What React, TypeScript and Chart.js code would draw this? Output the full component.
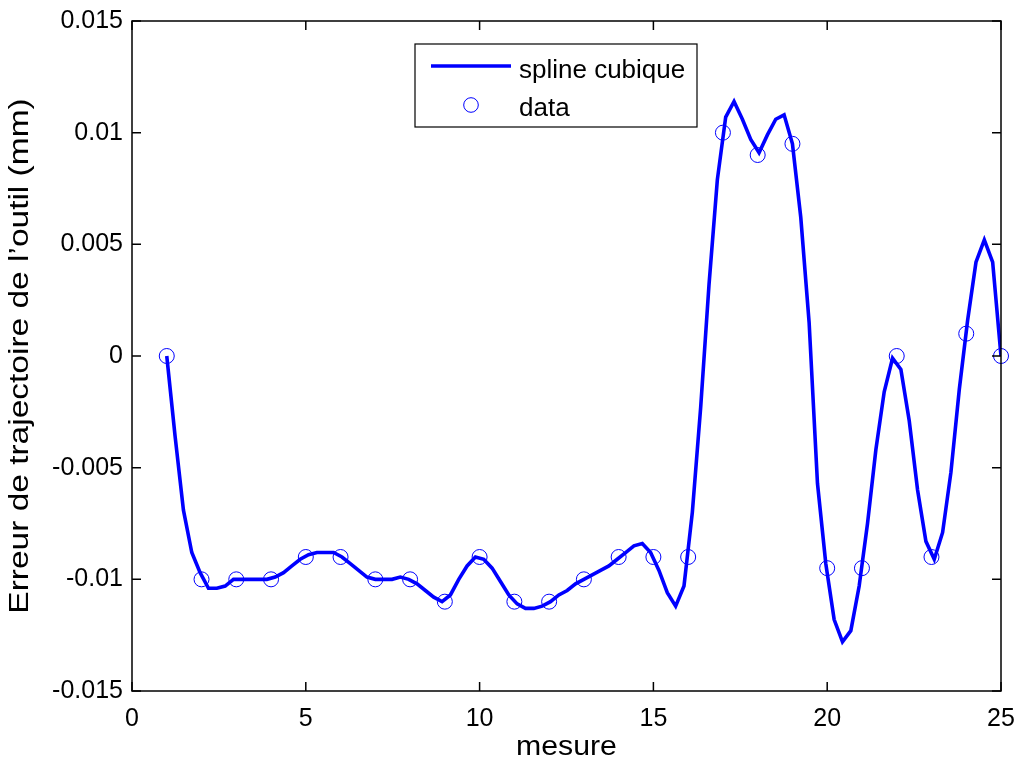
import React, { useEffect, useRef } from "react";
import { Chart, registerables } from "chart.js";

Chart.register(...registerables);

// ---- data ----
const dataX = [1, 2, 3, 4, 5, 6, 7, 8, 9, 10, 11, 12, 13, 14, 15, 16, 17, 18, 19, 20, 21, 22, 23, 24, 25];
const dataY = [
  0, -0.01, -0.01, -0.01, -0.009, -0.009, -0.01, -0.01, -0.011, -0.009,
  -0.011, -0.011, -0.01, -0.009, -0.009, -0.009, 0.01, 0.009, 0.0095, -0.0095,
  -0.0095, 0, -0.009, 0.001, 0,
];

const splineX = [
  1.0, 1.24, 1.48, 1.72, 1.96, 2.2, 2.44, 2.68, 2.92, 3.16,
  3.4, 3.64, 3.88, 4.12, 4.36, 4.6, 4.84, 5.08, 5.32, 5.56,
  5.8, 6.04, 6.28, 6.52, 6.76, 7.0, 7.24, 7.48, 7.72, 7.96,
  8.2, 8.44, 8.68, 8.92, 9.16, 9.4, 9.64, 9.88, 10.12, 10.36,
  10.6, 10.84, 11.08, 11.32, 11.56, 11.8, 12.04, 12.28, 12.52, 12.76,
  13.0, 13.24, 13.48, 13.72, 13.96, 14.2, 14.44, 14.68, 14.92, 15.16,
  15.4, 15.64, 15.88, 16.12, 16.36, 16.6, 16.84, 17.08, 17.32, 17.56,
  17.8, 18.04, 18.28, 18.52, 18.76, 19.0, 19.24, 19.48, 19.72, 19.96,
  20.2, 20.44, 20.68, 20.92, 21.16, 21.4, 21.64, 21.88, 22.12, 22.36,
  22.6, 22.84, 23.08, 23.32, 23.56, 23.8, 24.04, 24.28, 24.52, 24.76,
  25.0,
];
const splineY = [
  0, -0.0036, -0.0069, -0.0088, -0.0097, -0.0104, -0.0104, -0.0103, -0.01, -0.01,
  -0.01, -0.01, -0.01, -0.0099, -0.0097, -0.0094, -0.0091, -0.0089, -0.0088, -0.0088,
  -0.0088, -0.009, -0.0093, -0.0096, -0.0099, -0.01, -0.01, -0.01, -0.0099, -0.01,
  -0.0102, -0.0105, -0.0108, -0.011, -0.0107, -0.01, -0.0094, -0.009, -0.0091, -0.0095,
  -0.0101, -0.0107, -0.0111, -0.0113, -0.0113, -0.0112, -0.011, -0.0107, -0.0105, -0.0102,
  -0.01, -0.0098, -0.0096, -0.0094, -0.0091, -0.0088, -0.0085, -0.0084, -0.0088, -0.0096,
  -0.0106, -0.0112, -0.0103, -0.007, -0.0023, 0.0032, 0.0079, 0.0107, 0.0114, 0.0106,
  0.0097, 0.0091, 0.0099, 0.0106, 0.0108, 0.0095, 0.0062, 0.0015, -0.0057, -0.0093,
  -0.0118, -0.0128, -0.0123, -0.0103, -0.0075, -0.0042, -0.0016, -0.0001, -0.0006, -0.0029,
  -0.006, -0.0083, -0.0091, -0.0079, -0.0052, -0.0015, 0.0016, 0.0042, 0.0052, 0.0042,
  0,
];

const xTickValues = [0, 5, 10, 15, 20, 25];
const xTickLabels = ["0", "5", "10", "15", "20", "25"];
const yTickValues = [0.015, 0.01, 0.005, 0, -0.005, -0.01, -0.015];
const yTickLabels = ["0.015", "0.01", "0.005", "0", "-0.005", "-0.01", "-0.015"];

const seriesNames = ["spline cubique", "data"];
const xTitle = "mesure";
const yTitle = "Erreur de trajectoire de l\u2019outil (mm)";

// ---- styles ----
const BLUE = "#0000ff";
const FONT = '"Liberation Sans", Arial, Helvetica, sans-serif';
const FONT_SIZE = 25;
const TITLE_SIZE = 27;
const X_TITLE_STRETCH = 1.12;
const Y_TITLE_STRETCH = 1.24;

const axesBoxPlugin = {
  id: "axesBox",
  afterDraw(chart: any) {
    const { ctx, chartArea, scales } = chart;
    const { left, right, top, bottom } = chartArea;
    ctx.save();
    ctx.strokeStyle = "#000";
    ctx.lineWidth = 1.5;
    const tl = 9;
    ctx.beginPath();
    for (const v of xTickValues) {
      const px = scales.x.getPixelForValue(v);
      ctx.moveTo(px, bottom);
      ctx.lineTo(px, bottom - tl);
      ctx.moveTo(px, top);
      ctx.lineTo(px, top + tl);
    }
    for (const v of yTickValues) {
      const py = scales.y.getPixelForValue(v);
      ctx.moveTo(left, py);
      ctx.lineTo(left + tl, py);
      ctx.moveTo(right, py);
      ctx.lineTo(right - tl, py);
    }
    ctx.stroke();
    ctx.strokeRect(left, top, right - left, bottom - top);

    // axis titles
    ctx.fillStyle = "#000";
    ctx.font = `${TITLE_SIZE}px ${FONT}`;
    ctx.textAlign = "center";
    ctx.textBaseline = "middle";
    ctx.save();
    ctx.translate((left + right) / 2, 748);
    ctx.scale(X_TITLE_STRETCH, 1);
    ctx.fillText(xTitle, 0, 0);
    ctx.restore();
    ctx.save();
    ctx.translate(21, (top + bottom) / 2);
    ctx.rotate(-Math.PI / 2);
    ctx.scale(Y_TITLE_STRETCH, 1);
    ctx.fillText(yTitle, 0, 0);
    ctx.restore();

    // legend
    const lx = 415, ly = 44, lw = 282, lh = 83;
    ctx.fillStyle = "#fff";
    ctx.fillRect(lx, ly, lw, lh);
    ctx.lineWidth = 1.2;
    ctx.strokeStyle = "#000";
    ctx.strokeRect(lx, ly, lw, lh);

    ctx.strokeStyle = BLUE;
    ctx.lineWidth = 3.5;
    ctx.beginPath();
    ctx.moveTo(431, 66);
    ctx.lineTo(511, 66);
    ctx.stroke();

    ctx.lineWidth = 1;
    ctx.beginPath();
    ctx.arc(471, 105, 7.3, 0, Math.PI * 2);
    ctx.stroke();

    ctx.fillStyle = "#000";
    ctx.font = `26px ${FONT}`;
    ctx.textAlign = "left";
    ctx.textBaseline = "alphabetic";
    ctx.fillText(seriesNames[0], 519, 78);
    ctx.fillText(seriesNames[1], 519, 116);
    ctx.restore();
  },
};

export default function App() {
  const canvasRef = useRef<HTMLCanvasElement | null>(null);

  useEffect(() => {
    const canvas = canvasRef.current;
    if (!canvas) return;
    Chart.defaults.font.family = FONT;
    Chart.defaults.font.size = FONT_SIZE;
    Chart.defaults.color = "#000";

    const chart = new Chart(canvas, {
      type: "scatter",
      data: {
        datasets: [
          {
            label: seriesNames[1],
            data: dataX.map((x, i) => ({ x, y: dataY[i] })),
            showLine: false,
            pointStyle: "circle",
            pointRadius: 7.5,
            pointBorderWidth: 1,
            pointBorderColor: BLUE,
            pointBackgroundColor: "rgba(0,0,0,0)",
            clip: false,
          } as any,
          {
            label: seriesNames[0],
            data: splineX.map((x, i) => ({ x, y: splineY[i] })),
            showLine: true,
            borderColor: BLUE,
            borderWidth: 3.6,
            pointRadius: 0,
            tension: 0,
            borderJoinStyle: "miter",
          } as any,
        ],
      },
      options: {
        responsive: false,
        animation: false,
        events: [],
        layout: { padding: { top: 21, right: 16, left: 0, bottom: 0 } },
        plugins: {
          legend: { display: false },
          tooltip: { enabled: false },
        },
        scales: {
          x: {
            type: "linear",
            min: 0,
            max: 25,
            grid: { display: false, drawTicks: false },
            border: { display: false },
            afterBuildTicks: (scale: any) => {
              scale.ticks = xTickValues.map((v) => ({ value: v }));
            },
            afterFit: (scale: any) => {
              scale.height = 73;
              scale.paddingLeft = 0;
              scale.paddingRight = 0;
            },
            ticks: {
              padding: 13,
              maxRotation: 0,
              autoSkip: false,
              callback: (v: any) => {
                const i = xTickValues.indexOf(Number(v));
                return i >= 0 ? xTickLabels[i] : "";
              },
            },
            title: { display: false, text: xTitle },
          },
          y: {
            type: "linear",
            min: -0.015,
            max: 0.015,
            grid: { display: false, drawTicks: false },
            border: { display: false },
            afterBuildTicks: (scale: any) => {
              scale.ticks = yTickValues.map((v) => ({ value: v }));
            },
            afterFit: (scale: any) => {
              scale.width = 132;
              scale.paddingTop = 0;
              scale.paddingBottom = 0;
            },
            ticks: {
              padding: 9,
              autoSkip: false,
              callback: (v: any) => {
                const n = Number(v);
                let best = 0;
                for (let i = 0; i < yTickValues.length; i++) {
                  if (Math.abs(yTickValues[i] - n) < Math.abs(yTickValues[best] - n)) best = i;
                }
                return yTickLabels[best];
              },
            },
            title: { display: false, text: yTitle },
          },
        },
      },
      plugins: [axesBoxPlugin],
    });
    return () => chart.destroy();
  }, []);

  return (
    <div style={{ position: "fixed", left: 0, top: 0, width: 1017, height: 764, background: "#fff" }}>
      <canvas ref={canvasRef} width={1017} height={764} style={{ display: "block" }} />
    </div>
  );
}
